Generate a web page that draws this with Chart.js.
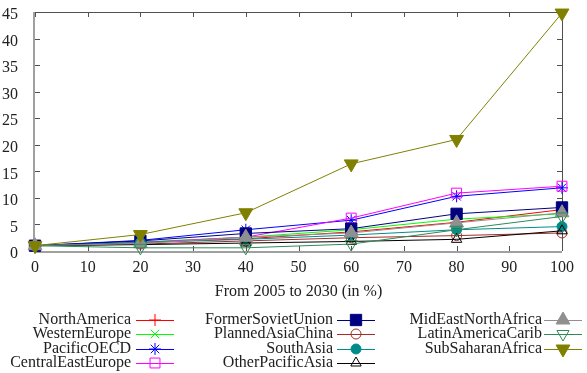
<!DOCTYPE html>
<html><head><meta charset="utf-8">
<script src="https://cdn.jsdelivr.net/npm/chart.js@4.4.1/dist/chart.umd.min.js"></script>
<style>html,body{margin:0;padding:0;background:#fff;overflow:hidden}#wrap{width:587px;height:373px}</style>
</head><body><div id="wrap"><canvas id="c" width="587" height="373"></canvas></div>
<script>
// ---- data ----
const xValues = [0, 20, 40, 60, 80, 100];
const xTicks = [0, 10, 20, 30, 40, 50, 60, 70, 80, 90, 100];
const yTicks = [0, 5, 10, 15, 20, 25, 30, 35, 40, 45];
const xTitle = 'From 2005 to 2030 (in %)';
const seriesNames = ['NorthAmerica','WesternEurope','PacificOECD','CentralEastEurope','FormerSovietUnion','PlannedAsiaChina','SouthAsia','OtherPacificAsia','MidEastNorthAfrica','LatinAmericaCarib','SubSaharanAfrica'];
const northAmerica      = [1, 1.6, 2.3, 3.6, 5.4, 7.8];
const westernEurope     = [1, 1.7, 2.6, 4.0, 6.0, 7.0];
const pacificOECD       = [1, 2.0, 4.0, 5.8, 10.3, 11.9];
const centralEastEurope = [1, 1.6, 2.6, 6.2, 10.9, 12.2];
const formerSovietUnion = [1, 1.9, 3.3, 4.2, 7.0, 8.2];
const plannedAsiaChina  = [1, 1.3, 1.9, 2.5, 2.9, 3.4];
const southAsia         = [1, 1.6, 2.2, 3.0, 4.0, 4.6];
const otherPacificAsia  = [1, 1.2, 1.5, 1.8, 2.2, 3.8];
const midEastNorthAfrica= [1, 1.4, 2.6, 3.4, 5.3, 7.2];
const latinAmericaCarib = [1, 0.6, 0.6, 1.3, 4.0, 6.5];
const subSaharanAfrica  = [1, 3.1, 7.2, 16.4, 21.0, 44.8];
const seriesValues = [northAmerica, westernEurope, pacificOECD, centralEastEurope, formerSovietUnion, plannedAsiaChina, southAsia, otherPacificAsia, midEastNorthAfrica, latinAmericaCarib, subSaharanAfrica];

// ---- styles ----
const styles = [
  {c:'#ff0000', ps:'cross',    r:6, fill:false, rot:0},
  {c:'#00ff00', ps:'crossRot', r:6, fill:false, rot:0},
  {c:'#0000ff', ps:'star',     r:6, fill:false, rot:0},
  {c:'#ff00ff', ps:'rect',     r:7, fill:false, rot:0},
  {c:'#000080', ps:'rect',     r:8, fill:true,  rot:0},
  {c:'#a52a2a', ps:'circle',   r:5, fill:false, rot:0},
  {c:'#008b8b', ps:'circle',   r:5, fill:true,  rot:0},
  {c:'#000000', ps:'triangle', r:6, fill:false, rot:0},
  {c:'#909090', ps:'triangle', r:8, fill:true,  rot:0},
  {c:'#2e8b57', ps:'triangle', r:7, fill:false, rot:180},
  {c:'#808000', ps:'triangle', r:8, fill:true,  rot:180}
];
const FONT = '"Liberation Serif", "Times New Roman", serif';

const datasets = seriesNames.map((name, i) => ({
  label: name,
  data: xValues.map((x, j) => ({x: x, y: seriesValues[i][j]})),
  borderColor: styles[i].c,
  backgroundColor: styles[i].fill ? styles[i].c : 'rgba(0,0,0,0)',
  pointBackgroundColor: styles[i].fill ? styles[i].c : 'rgba(0,0,0,0)',
  pointBorderColor: styles[i].c,
  pointStyle: styles[i].ps,
  pointRadius: styles[i].r,
  pointRotation: styles[i].rot,
  pointBorderWidth: 1,
  borderWidth: 1,
  tension: 0,
  fill: false,
  clip: false,
  order: -i
}));

const framePlugin = {
  id: 'frame',
  beforeDatasetsDraw(chart) {
    const ctx = chart.ctx, a = chart.chartArea;
    const xs = chart.scales.x, ys = chart.scales.y;
    ctx.save();
    ctx.strokeStyle = '#505050'; ctx.lineWidth = 1;
    ctx.beginPath();
    ctx.moveTo(a.left, a.top + 0.5); ctx.lineTo(a.right + 0.5, a.top + 0.5); ctx.lineTo(a.right + 0.5, a.bottom);
    ctx.stroke();
    ctx.beginPath();
    xTicks.forEach(v => {
      const px = Math.round(xs.getPixelForValue(v)) + 0.5;
      ctx.moveTo(px, a.top); ctx.lineTo(px, a.top + 5);
      ctx.moveTo(px, a.bottom); ctx.lineTo(px, a.bottom - 5);
    });
    yTicks.forEach(v => {
      const py = Math.round(ys.getPixelForValue(v)) + 0.5;
      ctx.moveTo(a.left, py); ctx.lineTo(a.left + 5, py);
      ctx.moveTo(a.right, py); ctx.lineTo(a.right - 5, py);
    });
    ctx.stroke();
    ctx.strokeStyle = '#a0a0a0'; ctx.lineWidth = 2;
    ctx.beginPath();
    const y0 = ys.getPixelForValue(0);
    ctx.moveTo(a.left - 1, a.top); ctx.lineTo(a.left - 1, y0 + 1);
    ctx.moveTo(a.left - 1, y0 + 1); ctx.lineTo(a.right, y0 + 1);
    ctx.stroke();
    ctx.restore();
  },
  afterDraw(chart) {
    const ctx = chart.ctx;
    ctx.save();
    ctx.fillStyle = '#202020';
    ctx.font = '16px ' + FONT;
    ctx.textBaseline = 'middle';
    ctx.textAlign = 'center';
    const a = chart.chartArea;
    ctx.fillText(xTitle, (a.left + a.right) / 2, 292);
    const colText = [131, 333, 542];
    const colMark = [155, 356, 563];
    const rows = [320, 334, 349, 363];
    const layout = [[0,1,2,3],[4,5,6,7],[8,9,10]];
    ctx.textAlign = 'right';
    layout.forEach((col, ci) => {
      col.forEach((si, ri) => {
        const y = rows[ri];
        const s = styles[si];
        ctx.fillStyle = '#202020';
        ctx.fillText(seriesNames[si], colText[ci], y);
        ctx.strokeStyle = s.c; ctx.lineWidth = 1;
        ctx.beginPath();
        ctx.moveTo(colMark[ci] - 19, y + 0.5); ctx.lineTo(colMark[ci] + 19, y + 0.5);
        ctx.stroke();
        ctx.fillStyle = s.fill ? s.c : 'rgba(0,0,0,0)';
        Chart.helpers.drawPoint(ctx, {pointStyle: s.ps, rotation: s.rot, radius: s.r, borderWidth: 1}, colMark[ci], y);
      });
    });
    ctx.restore();
  }
};

new Chart(document.getElementById('c'), {
  type: 'line',
  data: { datasets },
  options: {
    responsive: false,
    animation: false,
    layout: { padding: { top: 12, right: 25, left: 0, bottom: 0 } },
    plugins: { legend: { display: false }, tooltip: { enabled: false }, title: { display: false } },
    scales: {
      x: {
        type: 'linear', min: 0, max: 100,
        afterFit: s => { s.height = 122; },
        afterBuildTicks: s => { s.ticks = xTicks.map(v => ({value: v})); },
        grid: { display: false },
        border: { display: false },
        ticks: { maxRotation: 0, autoSkip: false, padding: -1, color: '#202020', font: { family: FONT, size: 16 } }
      },
      y: {
        type: 'linear', min: 0, max: 45,
        afterFit: s => { s.width = 35; s.paddingTop = 0; s.paddingBottom = 0; },
        afterBuildTicks: s => { s.ticks = yTicks.map(v => ({value: v})); },
        grid: { display: false },
        border: { display: false },
        ticks: { padding: 9, labelOffset: 3, color: '#202020', font: { family: FONT, size: 16 } }
      }
    }
  },
  plugins: [framePlugin]
});
</script>
</body></html>
